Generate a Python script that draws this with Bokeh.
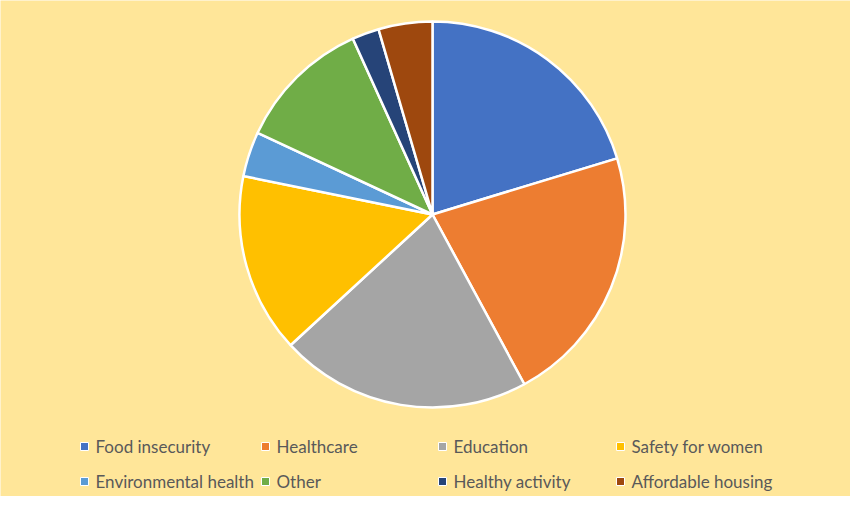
import math
from bokeh.plotting import figure
from bokeh.models import ColumnDataSource, Range1d
from bokeh.core.properties import value
from bokeh.embed import file_html
from bokeh.resources import INLINE

categories = ["Food insecurity", "Healthcare", "Education", "Safety for women",
              "Environmental health", "Other", "Healthy activity", "Affordable housing"]
counts = [27, 29, 28, 20, 5, 15, 3, 6]
colors = ["#4472C4", "#ED7D31", "#A5A5A5", "#FFC000",
          "#5B9BD5", "#70AD47", "#264478", "#9E480E"]

W, H = 850, 496
CX, CY, R = 432, 282, 193

total = sum(counts)
starts, ends = [], []
acc = 0.0
for c in counts:
    starts.append(math.pi / 2 - 2 * math.pi * acc / total)
    acc += c
    ends.append(math.pi / 2 - 2 * math.pi * acc / total)

src = ColumnDataSource(dict(cat=categories, val=counts, color=colors,
                            start=starts, end=ends))

p = figure(width=W, height=H, output_backend="svg", toolbar_location=None,
           x_range=Range1d(0, W), y_range=Range1d(0, H), min_border=0)
p.background_fill_color = "#FFE699"
p.border_fill_color = "#FFE699"
p.outline_line_color = None
p.axis.visible = False
p.grid.visible = False

p.wedge(x=CX, y=CY, radius=R, start_angle="start", end_angle="end",
        direction="clock", fill_color="color", line_color="white",
        line_width=2.5, source=src)

# legend layout (4 columns x 2 rows)
col_sq_x = [84, 265, 442, 620]
row_y = [50, 15]
lx, ly, tx = [], [], []
for i in range(len(categories)):
    r, c = divmod(i, 4)
    lx.append(col_sq_x[c])
    ly.append(row_y[r])
    tx.append(col_sq_x[c] + 11)
leg = ColumnDataSource(dict(x=lx, y=ly, tx=tx, cat=categories, color=colors))
p.scatter(x="x", y="y", marker="square", size=8, fill_color="color",
          line_color="white", line_width=1, source=leg)
p.text(x="tx", y="y", text="cat", text_font=value("Lato"), text_font_size="17px",
       text_color="#595959", text_baseline="middle", text_align="left", source=leg)

open("out.html", "w").write(file_html(p, INLINE))
